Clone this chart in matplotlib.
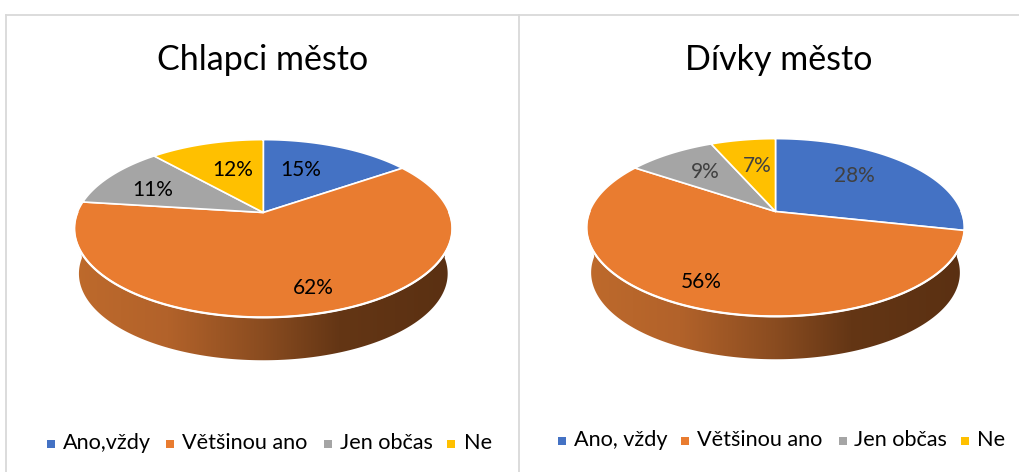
#!/usr/bin/env python3
# -*- coding: utf-8 -*-
import numpy as np
import matplotlib
matplotlib.use('Agg')
import matplotlib.pyplot as plt
from matplotlib.colors import LinearSegmentedColormap

plt.rcParams['font.family'] = ['Lato', 'DejaVu Sans']

categories_left = ['Ano,vždy', 'Většinou ano', 'Jen občas', 'Ne']
categories_right = ['Ano, vždy', 'Většinou ano', 'Jen občas', 'Ne']
# labels show these rounded, decimals estimated from the slice edges
values_left = [15.4, 61.6, 11.4, 11.6]
values_right = [28.4, 56.0, 9.0, 6.6]
colors = ['#4472C4', '#E97C30', '#A5A5A5', '#FFC000']

# side of the pie, left to right
side_cmap = LinearSegmentedColormap.from_list('side', [
    (0.0, '#BE6A2C'), (0.25, '#B2622A'), (0.5, '#8A4C20'), (0.7, '#643615'), (1.0, '#5A3012')])

PERSP = 0.18
HALF_W = 186.0
HALF_H = 86.0
DEPTH = 45.5
BACK_SCALE = 0.975


def project(cx, cy, u, v, scale=1.0, dy=0.0):
    # unit circle -> picture, a simple perspective so the hub sits above the ellipse centre
    w = 1 + PERSP * v
    return cx + scale * HALF_W * u / w, cy + dy - scale * HALF_H * v / w


def draw_pie(ax, cx, cy, values, title, title_x, label_pos, label_colors):
    t = np.radians(np.linspace(0, 360, 721))
    # side: rim front half joined to the lower ellipse front half
    lo = t[(t >= np.pi / 2) & (t <= 3 * np.pi / 2)]
    xb, yb = project(cx, cy, np.sin(lo), np.cos(lo), BACK_SCALE, DEPTH)
    xt, yt = project(cx, cy, np.sin(lo[::-1]), np.cos(lo[::-1]))
    poly = ax.fill(np.r_[xb, xt], np.r_[yb, yt], color='none', lw=0)[0]
    im = ax.imshow(np.linspace(0, 1, 256).reshape(1, -1), cmap=side_cmap, vmin=0, vmax=1,
                   extent=(cx - 190, cx + 190, cy + 160, cy - 90), aspect='auto', zorder=1)
    im.set_clip_path(poly)

    # top of the pie
    start = 0.0
    total = float(sum(values))
    for val, col in zip(values, colors):
        ang = np.radians(np.linspace(start, start + 360 * val / total, 200))
        x, y = project(cx, cy, np.sin(ang), np.cos(ang))
        ax.fill(np.r_[cx, x], np.r_[cy, y], facecolor=col, edgecolor='white', lw=1.2,
                joinstyle='round', zorder=2)
        start += 360 * val / total
    # thicker white rim at the front
    ax.plot(xt, yt, color='white', lw=1.6, zorder=2.5)

    for val, pos, c in zip(values, label_pos, label_colors):
        ax.text(pos[0], pos[1], f'{val:.0f}%', fontsize=15, color=c, ha='center', va='center', zorder=3)
    ax.text(title_x, 60, title, fontsize=24.5, color='black', ha='center', va='center')


def draw_legend(ax, names, square_x, text_x, y):
    for name, col, sx, tx in zip(names, colors, square_x, text_x):
        ax.fill([sx, sx + 8, sx + 8, sx], [y - 4, y - 4, y + 4, y + 4], color=col, lw=0)
        ax.text(tx, y - 1, name, fontsize=15.6, color='black', ha='left', va='center')


fig = plt.figure(figsize=(10.19, 4.72), dpi=100)
ax = fig.add_axes([0, 0, 1, 1])
ax.set_axis_off()

# panel borders
ax.plot([6, 6], [472, 15], color='#D9D9D9', lw=1.3)
ax.plot([6, 1019], [15, 15], color='#D9D9D9', lw=1.3)
ax.plot([519, 519], [15, 472], color='#D9D9D9', lw=1.3)

draw_pie(ax, 263.3, 212.5, values_left, 'Chlapci město', 263,
         [(301, 170), (313, 288), (153, 190), (233, 170)],
         ['black', 'black', 'black', 'black'])
draw_pie(ax, 775.5, 211.5, values_right, 'Dívky město', 779,
         [(854, 176), (701, 282), (705, 172), (757, 166)],
         ['#404040', 'black', '#404040', '#404040'])

draw_legend(ax, categories_left, [47, 166, 324, 447], [63, 182, 340, 464], 444)
draw_legend(ax, categories_right, [558, 681, 839, 961], [574, 697, 854, 977], 441)

ax.set_xlim(0, 1019)
ax.set_ylim(472, 0)
fig.savefig('out.png', dpi=100)
